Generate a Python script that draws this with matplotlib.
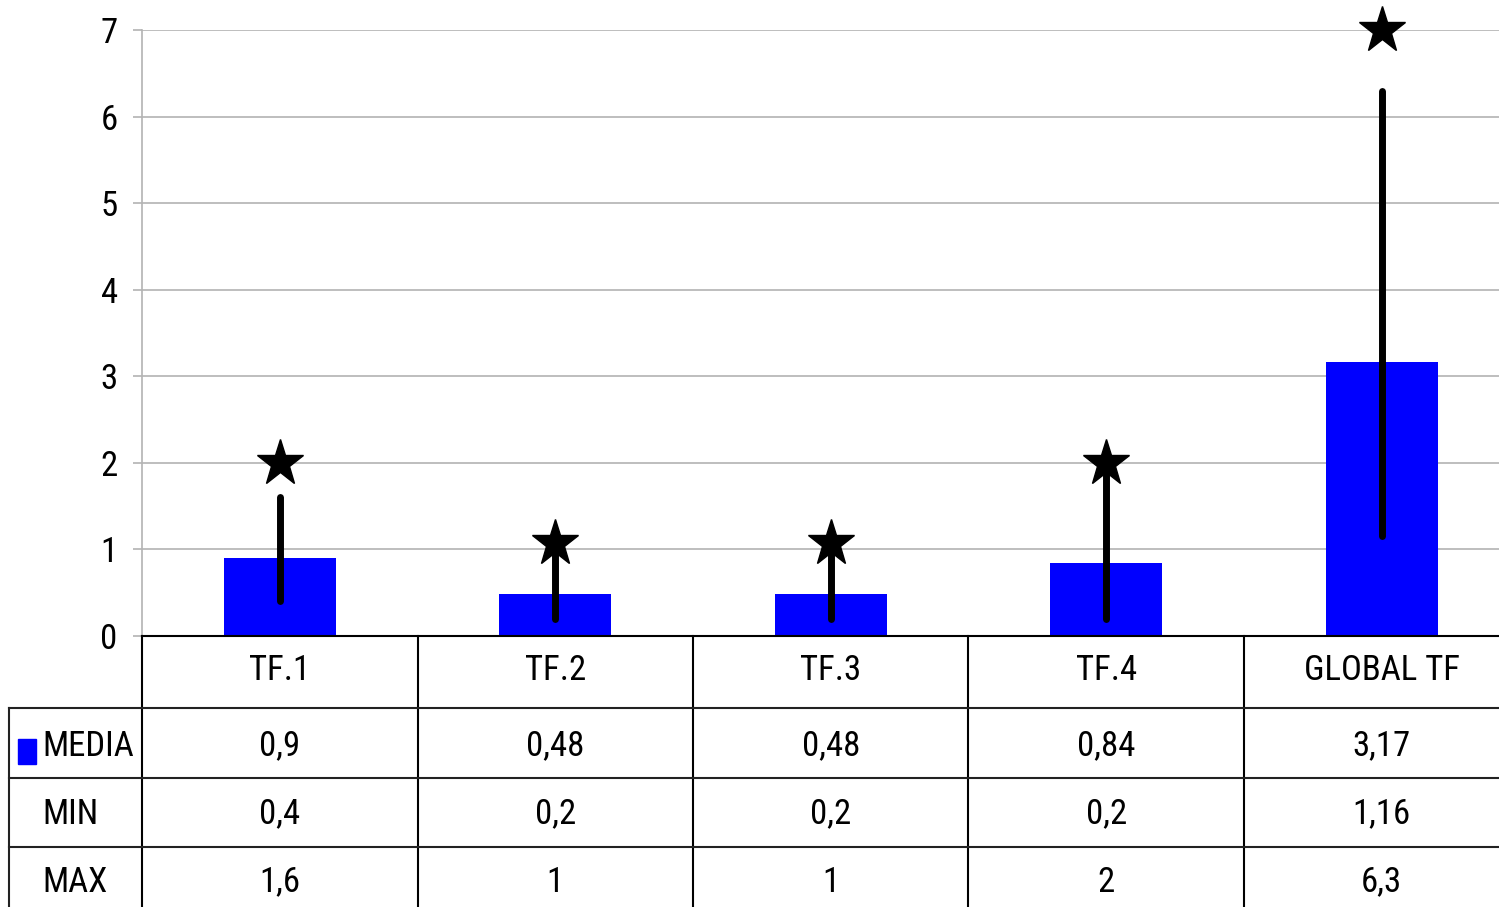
import matplotlib
matplotlib.use('Agg')
import matplotlib.pyplot as plt
import matplotlib.transforms as mtransforms
from matplotlib.patches import Rectangle
from matplotlib.lines import Line2D
import numpy as np

# data
categories = ['TF.1', 'TF.2', 'TF.3', 'TF.4', 'GLOBAL TF']
media = [0.9, 0.48, 0.48, 0.84, 3.17]
mins = [0.4, 0.2, 0.2, 0.2, 1.16]
maxs = [1.6, 1, 1, 2, 6.3]
stars = [2.0, 1.08, 1.08, 2.0, 7.0]
row_names = ['MEDIA', 'MIN', 'MAX']

plt.rcParams['font.family'] = ['Roboto Condensed', 'Liberation Sans', 'DejaVu Sans']

W, H = 1499, 907


def fy(py):
    return 1 - py / H


def fmt(v):
    return str(v).replace('.', ',')


fig = plt.figure(figsize=(W / 100, H / 100), dpi=100)
ax = fig.add_axes([142 / W, fy(636), 1377.5 / W, 606 / H])

x = np.arange(len(categories))
grey = '#b3b3b3'

ax.bar(x, media, width=0.405, color='#0000ff', zorder=2)
for xi, lo, hi in zip(x, mins, maxs):
    ax.plot([xi, xi], [lo, hi], color='black', lw=5, solid_capstyle='round', zorder=3)
ax.plot(x, stars, linestyle='none', marker='*', ms=35, color='black', clip_on=False, zorder=4)

ax.set_xlim(-0.5, 4.5)
ax.set_ylim(0, 7)
ax.set_yticks(range(8))
ax.set_xticks([])
ax.yaxis.grid(True, color=grey, lw=1.2, zorder=0)
ax.set_axisbelow(True)
ax.tick_params(axis='y', length=6.5, width=1.2, color=grey, labelsize=25, pad=11)
for s in ['top', 'right']:
    ax.spines[s].set_visible(False)
ax.spines['left'].set_color(grey)
ax.spines['left'].set_linewidth(1.2)
ax.spines['bottom'].set_color('black')
ax.spines['bottom'].set_linewidth(1.5)

# data table below the plot
trans = mtransforms.blended_transform_factory(ax.transData, fig.transFigure)
for b in np.arange(-0.5, len(categories), 1.0):
    fig.add_artist(Line2D([b, b], [fy(636), fy(907)], transform=trans, color='black', lw=1.5))
for py in [708, 778, 847]:
    fig.add_artist(Line2D([9 / W, 1], [fy(py), fy(py)], transform=fig.transFigure,
                          color='#222222', lw=1.5))
fig.add_artist(Line2D([9 / W, 9 / W], [fy(708), fy(907)], transform=fig.transFigure,
                      color='#222222', lw=1.5))

for xi, c in zip(x, categories):
    fig.text(xi, fy(671), c, transform=trans, ha='center', va='center', fontsize=25)

row_y = [746, 814, 882]
for vals, py in zip([media, mins, maxs], row_y):
    for xi, v in zip(x, vals):
        fig.text(xi, fy(py), fmt(v), transform=trans, ha='center', va='center', fontsize=25)

for name, py in zip(row_names, row_y):
    fig.text(42 / W, fy(py), name, ha='left', va='center', fontsize=25)
fig.add_artist(Rectangle((18 / W, fy(764)), 18 / W, 25 / H, transform=fig.transFigure,
                         color='#0000ff'))

fig.savefig('out.png', dpi=100)
